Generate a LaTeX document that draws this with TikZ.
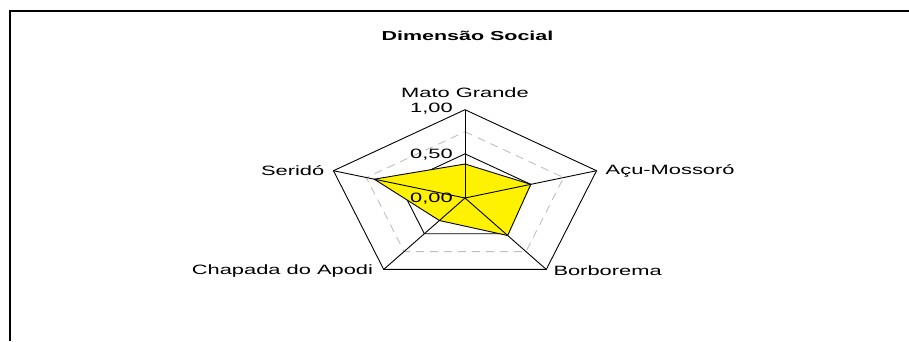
\documentclass[tikz,border=0pt]{standalone}
\usepackage{fontspec}
\setmainfont{Liberation Sans}
\newcommand{\wide}[1]{\scalebox{1.62}[1]{#1}}
\newcommand{\widet}[1]{\scalebox{1.65}[1]{#1}}
\definecolor{gridgray}{RGB}{190,190,190}
\begin{document}
\begin{tikzpicture}[x=1pt,y=1pt,
  lab/.style={inner sep=0pt, text height=9.7pt, text depth=0pt, font=\fontsize{13.5}{16}\selectfont},
  titlelab/.style={inner sep=0pt, text height=9.3pt, text depth=0pt, font=\fontsize{13}{16}\selectfont\bfseries},
  framebox/.style={line width=2pt},
  ringsolid/.style={draw=black, line width=0.9pt},
  ringdash/.style={draw=gridgray, line width=0.9pt, dash pattern=on 8pt off 6pt},
  spoke/.style={draw=black, line width=0.9pt},
  series/.style={fill=yellow, draw=black, line width=0.9pt, line join=miter}
]
\useasboundingbox (0,0) rectangle (909,341);
\draw[framebox] (10,0) -- (10,329.5) -- (909,329.5);

\node[titlelab] (title) at (467.5,304.8) {\widet{Dimensão Social}};

\begin{scope}[shift={(465pt,143pt)}, x=138.3pt, y=88.3pt]
  \coordinate (O) at (0,0);
  \coordinate (vm) at (90:1);
  \coordinate (va) at (18:1);
  \coordinate (vb) at (-54:1);
  \coordinate (vc) at (-126:1);
  \coordinate (vs) at (162:1);
  % grid rings
  \draw[ringdash] (90:0.25) -- (18:0.25) -- (-54:0.25) -- (-126:0.25) -- (162:0.25) -- cycle;
  \draw[ringsolid] (90:0.5) -- (18:0.5) -- (-54:0.5) -- (-126:0.5) -- (162:0.5) -- cycle;
  \draw[ringdash] (90:0.75) -- (18:0.75) -- (-54:0.75) -- (-126:0.75) -- (162:0.75) -- cycle;
  \draw[ringsolid] (vm) -- (va) -- (vb) -- (vc) -- (vs) -- cycle;
  % series
  \filldraw[series] (90:0.385) -- (18:0.50) -- (-54:0.525) -- (-126:0.315) -- (162:0.69) -- cycle;
  % spokes
  \draw[spoke] (O) -- (vm);
  \draw[spoke] (O) -- (va);
  \draw[spoke] (O) -- (vb);
  \draw[spoke] (O) -- (vc);
  \draw[spoke] (O) -- (vs);
  % scale ticks
  \coordinate (h50) at (90:0.5);
\end{scope}

% scale labels
\node[lab, anchor=east] (s100) at ([xshift=-12pt,yshift=1.7pt]vm) {\wide{1,00}};
\node[lab, anchor=east] (s050) at ([xshift=-12pt,yshift=0.5pt]h50) {\wide{0,50}};
\node[lab, anchor=east] (s000) at ([xshift=-12pt,yshift=0.8pt]O) {\wide{0,00}};

% category labels
\node[lab] (lm) at ([yshift=17pt]vm) {\wide{Mato Grande}};
\node[lab, anchor=west] (la) at ([xshift=9pt,yshift=1.5pt]va) {\wide{Açu-Mossoró}};
\node[lab, anchor=west] (lb) at ([xshift=7pt,yshift=-1pt]vb) {\wide{Borborema}};
\node[lab, anchor=east] (lc) at ([xshift=-10.5pt]vc) {\wide{Chapada do Apodi}};
\node[lab, anchor=east] (ls) at ([xshift=-9pt,yshift=0.5pt]vs) {\wide{Seridó}};
\end{tikzpicture}
\end{document}
